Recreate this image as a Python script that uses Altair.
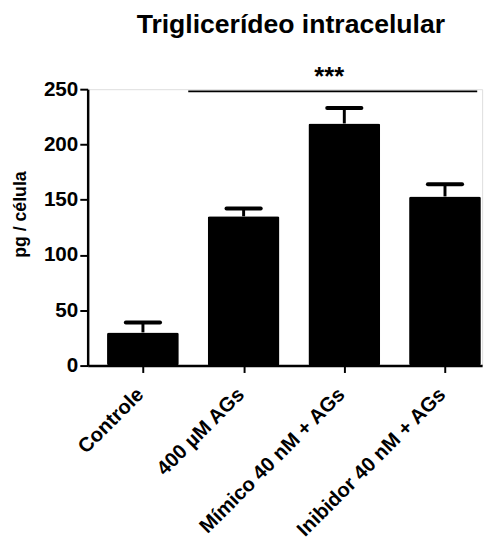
import altair as alt
import pandas as pd

categories = ["Controle", "400 µM AGs", "Mímico 40 nM + AGs", "Inibidor 40 nM + AGs"]
means = [30, 135, 219, 153]
errors = [9, 7, 14, 11]
sig_label = "***"
sig_y = 248
sig_from = 0.45
sig_to = 3.32
sig_text_x = 1.85

df = pd.DataFrame({"pos": list(range(len(categories))), "cat": categories,
                   "mean": means, "err": errors})
df["upper"] = df["mean"] + df["err"]
df["c0"] = df["pos"] - 0.17
df["c1"] = df["pos"] + 0.17

FONT = "Liberation Sans"
label_expr = "[" + ",".join("'" + c + "'" for c in categories) + "][datum.value]"

xscale = alt.Scale(domain=[-0.5, 3.32], nice=False, zero=False)
yscale = alt.Scale(domain=[0, 250], nice=False)

xaxis = alt.Axis(values=[0, 1, 2, 3], labelExpr=label_expr, title=None, grid=False,
                 labelAngle=-45, labelAlign="right", labelBaseline="middle",
                 labelOverlap=False, labelFlush=False, labelBound=False, labelLimit=400,
                 labelFontSize=20.5, labelFont=FONT, labelFontWeight="bold", labelColor="black",
                 domainColor="black", domainWidth=2.5, tickColor="black", tickWidth=2, tickSize=7,
                 labelPadding=19, labelOffset=-3)
yaxis = alt.Axis(values=[0, 50, 100, 150, 200, 250], title="pg / célula", grid=False,
                 labelFontSize=21, labelFont=FONT, labelFontWeight="bold", labelColor="black",
                 titleFontSize=18, titleFont=FONT, titleFontWeight="bold", titleColor="black",
                 domainColor="black", domainWidth=2.5, tickColor="black", tickWidth=2, tickSize=8,
                 labelPadding=2, titlePadding=14, titleY=127)

base = alt.Chart(df)
bars = base.mark_bar(width=73, color="black", cornerRadius=2).encode(
    x=alt.X("pos:Q", scale=xscale, axis=xaxis),
    y=alt.Y("mean:Q", scale=yscale, axis=yaxis),
)
stem = base.mark_rule(color="black", strokeWidth=3).encode(
    x="pos:Q", y="mean:Q", y2="upper:Q")
cap = base.mark_rule(color="black", strokeWidth=4, strokeCap="round").encode(
    x="c0:Q", x2="c1:Q", y="upper:Q")

sig_df = pd.DataFrame({"x0": [sig_from], "x1": [sig_to], "y": [sig_y],
                       "xm": [sig_text_x], "label": [sig_label]})
sig_line = alt.Chart(sig_df).mark_rule(color="black", strokeWidth=2, clip=False).encode(
    x="x0:Q", x2="x1:Q", y="y:Q")
sig_text = alt.Chart(sig_df).mark_text(font=FONT, fontSize=26, fontWeight="bold", color="black",
                                       baseline="bottom", dy=-2, clip=False).encode(
    x="xm:Q", y="y:Q", text="label:N")

chart = alt.layer(bars, stem, cap, sig_line, sig_text).properties(
    width=401, height=281,
    title=alt.TitleParams("Triglicerídeo intracelular", font=FONT, fontSize=27,
                          fontWeight="bold", color="black", offset=25, anchor="middle",
                          frame="group", dx=6),
    autosize=alt.AutoSizeParams(type="none"),
    padding={"left": 81, "top": 78, "right": 8, "bottom": 186},
).configure_view(stroke=None).configure(background="white")

chart.save("out.html", embed_options={"renderer": "svg", "actions": False})
